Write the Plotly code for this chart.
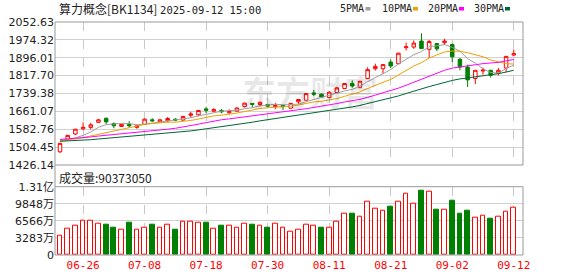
import plotly.graph_objects as go

# ---------------- data ----------------
dates = ["06-23", "06-24", "06-25", "06-26", "06-27", "06-30",
         "07-01", "07-02", "07-03", "07-04", "07-07", "07-08", "07-09", "07-10", "07-11",
         "07-14", "07-15", "07-16", "07-17", "07-18", "07-21", "07-22", "07-23", "07-24",
         "07-25", "07-28", "07-29", "07-30", "07-31",
         "08-01", "08-04", "08-05", "08-06", "08-07", "08-08", "08-11", "08-12", "08-13",
         "08-14", "08-15", "08-18", "08-19", "08-20", "08-21", "08-22", "08-25", "08-26",
         "08-27", "08-28", "08-29",
         "09-01", "09-02", "09-03", "09-04", "09-05", "09-08", "09-09", "09-10", "09-11", "09-12"]

open_ = [1484, 1538, 1562, 1585, 1591, 1613, 1631, 1608, 1595, 1604, 1591, 1604, 1624, 1615, 1620,
         1627, 1623, 1644, 1646, 1672, 1662, 1665, 1655, 1662, 1682, 1696, 1691, 1691, 1681, 1687,
         1675, 1703, 1710, 1742, 1736, 1722, 1744, 1761, 1784, 1765, 1805, 1848, 1848, 1877, 1870,
         1940, 1943, 1969, 1933, 1958, 1962, 1954, 1889, 1855, 1805, 1838, 1841, 1829, 1851, 1908]
high = [1523, 1558, 1584, 1613, 1611, 1628, 1633, 1613, 1606, 1618, 1600, 1630, 1631, 1628, 1636,
        1631, 1641, 1659, 1667, 1681, 1675, 1671, 1670, 1678, 1699, 1697, 1703, 1696, 1698, 1690,
        1698, 1716, 1741, 1755, 1741, 1750, 1769, 1785, 1797, 1795, 1854, 1870, 1868, 1888, 1918,
        1962, 1972, 2003, 1974, 1960, 1979, 1958, 1895, 1866, 1841, 1853, 1843, 1851, 1904, 1932]
low = [1479, 1536, 1557, 1579, 1582, 1611, 1605, 1587, 1593, 1591, 1585, 1602, 1615, 1613, 1614,
       1618, 1620, 1634, 1640, 1654, 1657, 1653, 1648, 1660, 1678, 1678, 1683, 1678, 1671, 1666,
       1673, 1693, 1708, 1728, 1719, 1720, 1742, 1759, 1764, 1763, 1803, 1840, 1827, 1851, 1868,
       1928, 1935, 1934, 1896, 1925, 1953, 1877, 1841, 1768, 1781, 1822, 1809, 1819, 1833, 1902]
close = [1521, 1556, 1583, 1591, 1602, 1624, 1615, 1598, 1604, 1598, 1598, 1627, 1620, 1624, 1630,
         1623, 1639, 1650, 1665, 1666, 1669, 1659, 1661, 1676, 1697, 1692, 1701, 1684, 1687, 1683,
         1696, 1713, 1739, 1736, 1724, 1745, 1764, 1783, 1772, 1793, 1844, 1858, 1866, 1860, 1916,
         1944, 1960, 1936, 1967, 1935, 1969, 1900, 1855, 1799, 1841, 1842, 1819, 1841, 1902, 1914]

# volume in 万 (10k)
volume = [3790, 5130, 5710, 6670, 6670, 6100, 5770, 5190, 4940, 6150, 4940, 5330, 5770, 5330, 5900,
          4800, 6480, 6340, 6150, 6210, 5130, 5580, 5710, 5330, 5960, 5770, 5710, 5190, 6100, 5330,
          4420, 4940, 5900, 5710, 5190, 5330, 6340, 7880, 7880, 7440, 10320, 8840, 8460, 9230, 10320,
          11860, 9810, 12310, 12250, 8650, 8780, 10390, 7880, 8460, 7250, 7630, 6920, 7440, 8400, 9037]
vol_up = [1, 1, 1, 1, 1, 1, 0, 0, 1, 0, 1, 1, 0, 1, 1,
          0, 1, 1, 1, 0, 1, 0, 1, 1, 1, 0, 1, 0, 1, 1,
          1, 1, 1, 1, 0, 1, 1, 1, 0, 1, 1, 1, 1, 0, 1,
          1, 1, 0, 1, 0, 1, 0, 0, 0, 1, 1, 0, 1, 1, 1]

ma5 = [1531, 1535, 1545, 1556, 1570.6, 1591.2, 1603.0, 1606.0, 1608.6, 1607.8,
       1602.6, 1605.0, 1609.4, 1613.4, 1619.8, 1624.8, 1627.2, 1633.2, 1641.4, 1648.6,
       1657.8, 1661.8, 1664.0, 1666.2, 1672.4, 1677.0, 1685.4, 1690.0, 1692.2, 1689.4,
       1690.2, 1692.6, 1703.6, 1713.4, 1721.6, 1731.4, 1741.6, 1750.4, 1757.6, 1771.4,
       1791.2, 1810.0, 1826.6, 1844.2, 1868.8, 1888.8, 1909.2, 1923.2, 1944.6, 1948.4,
       1953.4, 1941.4, 1925.2, 1891.6, 1872.8, 1847.4, 1831.2, 1828.4, 1849.0, 1863.6]
ma10 = [1534, 1536, 1540, 1546, 1553, 1562, 1570, 1576, 1583, 1589.2,
        1596.9, 1604.0, 1607.7, 1611.0, 1613.8, 1613.7, 1616.1, 1621.3, 1627.4, 1634.2,
        1641.3, 1644.5, 1648.6, 1653.8, 1660.5, 1667.4, 1673.6, 1677.0, 1679.2, 1680.9,
        1683.6, 1689.0, 1696.8, 1702.8, 1705.5, 1710.8, 1717.1, 1727.0, 1735.5, 1746.5,
        1761.3, 1775.8, 1788.5, 1800.9, 1820.1, 1840.0, 1859.6, 1874.9, 1894.4, 1908.6,
        1921.1, 1925.3, 1924.2, 1918.1, 1910.6, 1900.4, 1886.3, 1876.8, 1870.3, 1868.2]
ma20 = [1538, 1540, 1542, 1545, 1549, 1553, 1556, 1559, 1562, 1566,
        1569, 1572, 1575, 1579, 1583, 1587, 1592, 1598, 1605, 1611.7,
        1619.1, 1624.3, 1628.2, 1632.4, 1637.2, 1640.6, 1644.9, 1649.2, 1653.3, 1657.6,
        1662.5, 1666.8, 1672.7, 1678.3, 1683.0, 1689.1, 1695.4, 1702.0, 1707.4, 1713.7,
        1722.5, 1732.4, 1742.7, 1751.9, 1762.8, 1775.4, 1788.4, 1801.0, 1815.0, 1827.6,
        1841.2, 1850.6, 1856.4, 1859.5, 1865.4, 1870.2, 1873.0, 1875.9, 1882.4, 1888.4]
ma30 = [1530, 1531, 1532.5, 1534.5, 1537, 1540, 1543, 1545, 1548, 1550,
        1552, 1555, 1558, 1561.5, 1565, 1568, 1571.5, 1575.5, 1580, 1584.5,
        1589, 1593.5, 1598, 1602.5, 1608, 1613.5, 1619.5, 1624.5, 1629.5, 1634.8,
        1640.6, 1645.8, 1651.0, 1655.9, 1659.9, 1664.0, 1668.9, 1675.1, 1680.7, 1687.2,
        1695.4, 1703.1, 1711.3, 1719.2, 1728.7, 1739.4, 1750.1, 1759.6, 1769.7, 1778.7,
        1788.7, 1796.7, 1803.2, 1807.3, 1812.1, 1817.1, 1821.0, 1826.2, 1833.4, 1841.1]

price_ticks = [1426.14, 1504.45, 1582.76, 1661.07, 1739.38, 1817.70, 1896.01, 1974.32, 2052.63]
price_tick_text = ["1426.14", "1504.45", "1582.76", "1661.07", "1739.38", "1817.70",
                   "1896.01", "1974.32", "2052.63"]
vol_ticks = [0, 3283, 6566, 9849, 13132]
vol_tick_text = ["0", "3283万", "6566万", "9848万", "1.31亿"]
date_ticks = ["06-26", "07-08", "07-18", "07-30", "08-11", "08-21", "09-02", "09-12"]

title_name = "算力概念[BK1134]"
title_time = "2025-09-12 15:00"
vol_label = "成交量:90373050"
ma_names = ["5PMA", "10PMA", "20PMA", "30PMA"]

# ---------------- styling / layout ----------------
W, H = 578, 276
L, R, T, B = 55, 55, 22, 21
PW, PH = W - L - R, H - T - B

RED = "#ff0000"
GREEN = "#008000"
MA_COLORS = ["#a0a0a0", "#f0a000", "#ff00ff", "#006633"]
FRAME = "#999999"
GRID = "#d0d0d0"


def px(x):
    return (x - L) / PW


def py(y):
    return (H - B - y) / PH


main_bottom_px = 165
vol_top_px = 186.7
main_dom = [py(main_bottom_px), 1.0]
vol_dom = [0.0, py(vol_top_px)]

fig = go.Figure()

fig.add_trace(go.Candlestick(
    x=dates, open=open_, high=high, low=low, close=close,
    increasing=dict(line=dict(color=RED, width=1), fillcolor="#ffffff"),
    decreasing=dict(line=dict(color=GREEN, width=1), fillcolor=GREEN),
    whiskerwidth=0, showlegend=False, hoverinfo="skip",
    xaxis="x", yaxis="y"))

for ma, col in zip([ma5, ma10, ma20, ma30], MA_COLORS):
    fig.add_trace(go.Scatter(x=dates, y=ma, mode="lines",
                             line=dict(color=col, width=1),
                             showlegend=False, hoverinfo="skip",
                             xaxis="x", yaxis="y"))

bar_fill = ["#ffffff" if u else GREEN for u in vol_up]
bar_line = [RED if u else GREEN for u in vol_up]
fig.add_trace(go.Bar(x=dates, y=volume, width=0.62,
                     marker=dict(color=bar_fill, line=dict(color=bar_line, width=1)),
                     showlegend=False, hoverinfo="skip",
                     xaxis="x2", yaxis="y2"))

tick_font = dict(family="DejaVu Sans, Noto Sans CJK SC", size=11, color="#222222")
xrange = [-0.65, 60.2]

shapes = [
    dict(type="rect", xref="paper", yref="paper", x0=0, x1=1, y0=main_dom[0], y1=1,
         line=dict(color=FRAME, width=1), layer="above"),
    dict(type="rect", xref="paper", yref="paper", x0=0, x1=1, y0=0, y1=vol_dom[1],
         line=dict(color=FRAME, width=1), layer="above"),
    dict(type="line", xref="paper", yref="paper", x0=0, x1=0, y0=vol_dom[1], y1=main_dom[0],
         line=dict(color=FRAME, width=1), layer="above"),
]

annotations = [
    dict(text=title_name + " <span style='font-family:DejaVu Sans Mono;font-size:10.5px'>"
         + title_time + "</span>",
         xref="paper", yref="paper", x=px(57), y=py(9), xanchor="left", yanchor="middle",
         showarrow=False, font=dict(family="Noto Sans CJK SC", size=12, color="#222222")),
    dict(text=vol_label, xref="paper", yref="paper", x=px(57), y=py(177),
         xanchor="left", yanchor="middle", showarrow=False,
         font=dict(family="Noto Sans CJK SC", size=12, color="#222222")),
    dict(text="<b>东方财富</b>", xref="paper", yref="paper", x=px(310), y=py(91),
         xanchor="center", yanchor="middle", showarrow=False,
         font=dict(family="Noto Sans CJK SC", size=34, color="rgba(0,0,0,0.09)")),
]

leg_text_x = [338, 380, 425.7, 471.7]
leg_box_x = [365.5, 413, 459, 505]
for name, col, tx, bx in zip(ma_names, MA_COLORS, leg_text_x, leg_box_x):
    annotations.append(dict(text=name, xref="paper", yref="paper", x=px(tx), y=py(9),
                            xanchor="left", yanchor="middle", showarrow=False,
                            font=dict(family="DejaVu Sans Mono", size=10, color="#222222")))
    shapes.append(dict(type="rect", xref="paper", yref="paper",
                       x0=px(bx), x1=px(bx + 5), y0=py(10.5), y1=py(7),
                       fillcolor=col, line=dict(width=0)))

fig.update_layout(
    width=W, height=H, autosize=False,
    margin=dict(l=L, r=R, t=T, b=B, pad=0, autoexpand=False),
    paper_bgcolor="#ffffff", plot_bgcolor="#ffffff",
    showlegend=False, boxgap=0.35,
    bargap=0,
    xaxis=dict(type="category", domain=[0, 1], anchor="y", range=xrange,
               rangeslider=dict(visible=False), automargin=False,
               tickvals=date_ticks, showticklabels=False, ticks="",
               showgrid=True, gridcolor="#c8c8c8", griddash="dash", gridwidth=1,
               zeroline=False, showline=False, fixedrange=True),
    xaxis2=dict(type="category", domain=[0, 1], anchor="y2", range=xrange,
                matches="x", tickvals=date_ticks, ticktext=date_ticks, automargin=False,
                showticklabels=True, ticks="", ticklabelstandoff=2,
                tickfont=dict(family="DejaVu Sans Mono", size=11, color=RED),
                showgrid=True, gridcolor="#c8c8c8", griddash="dash", gridwidth=1,
                zeroline=False, showline=False),
    yaxis=dict(domain=main_dom, range=[price_ticks[0], price_ticks[-1]], anchor="x",
               tickvals=price_ticks, ticktext=price_tick_text, tickfont=tick_font,
               ticks="", showgrid=True, gridcolor=GRID, gridwidth=1, automargin=False,
               zeroline=False, showline=False),
    yaxis2=dict(domain=vol_dom, range=[vol_ticks[0], vol_ticks[-1]], anchor="x2",
                tickvals=vol_ticks, ticktext=vol_tick_text, tickfont=tick_font,
                ticks="", showgrid=True, gridcolor=GRID, gridwidth=1, automargin=False,
                zeroline=False, showline=False),
    shapes=shapes,
    annotations=annotations,
)

fig.write_html("out.html")
